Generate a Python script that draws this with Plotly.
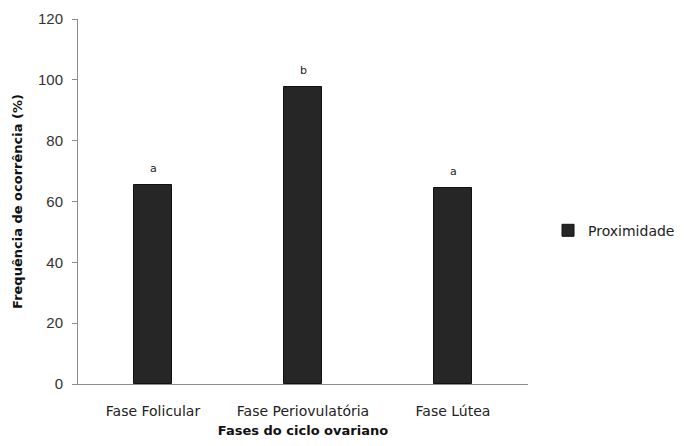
import plotly.graph_objects as go

categorias = ["Fase Folicular", "Fase Periovulatória", "Fase Lútea"]
proximidade = [65.5, 97.5, 64.5]
letras = ["a", "b", "a"]
y_ticks = [0, 20, 40, 60, 80, 100, 120]

fig = go.Figure()
fig.add_trace(go.Bar(
    x=categorias, y=proximidade, name="Proximidade",
    marker=dict(color="#262626", line=dict(color="#111111", width=1)),
    width=0.25,
))
for c, v, t in zip(categorias, proximidade, letras):
    fig.add_annotation(x=c, y=v, text=t, showarrow=False, yanchor="bottom",
                       yshift=8, font=dict(family="DejaVu Sans", size=11, color="#222"))

fig.update_layout(
    width=670, height=430,
    margin=dict(l=70, r=150, t=11, b=54),
    plot_bgcolor="white", paper_bgcolor="white",
    bargap=0,
    showlegend=True,
    legend=dict(xref="container", x=0.806, y=0.42, xanchor="left", yanchor="middle",
                itemwidth=30,
                font=dict(family="DejaVu Sans", size=14, color="#222")),
    font=dict(family="DejaVu Sans", size=12, color="#333"),
)
fig.update_xaxes(
    showline=True, linecolor="#8c8c8c", linewidth=1, automargin=False,
    ticks="", ticklabelstandoff=14,
    tickfont=dict(family="DejaVu Sans", size=14, color="#222"),
    title=dict(text="<b>Fases do ciclo ovariano</b>", standoff=24,
               font=dict(family="DejaVu Sans", size=13, color="#111")),
)
fig.update_yaxes(
    range=[0, 120], tickvals=y_ticks, showgrid=False, zeroline=False,
    showline=True, linecolor="#8c8c8c", linewidth=1, automargin=False,
    ticks="outside", ticklen=5, tickcolor="#8c8c8c", ticklabelstandoff=6,
    tickfont=dict(family="Liberation Sans", size=15, color="#333"),
    title=dict(text="<b>Frequência de ocorrência (%)</b>", standoff=12,
               font=dict(family="DejaVu Sans", size=13, color="#111")),
)
fig.write_html("out.html")
